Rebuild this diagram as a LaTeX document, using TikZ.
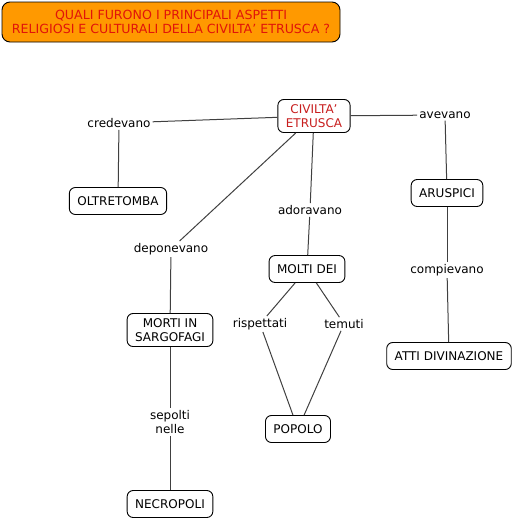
\documentclass[tikz,border=0pt]{standalone}
\usepackage{fontspec}
\setmainfont{DejaVu Sans}
\usepackage{tikz}
\usetikzlibrary{positioning}
\definecolor{titleorange}{RGB}{255,153,0}
\definecolor{titlered}{RGB}{225,20,10}
\definecolor{conceptred}{RGB}{200,30,30}
\newcommand{\apos}{\char"27\relax}
\tikzset{
  concept/.style={draw, rounded corners=6pt, line width=0.9pt, fill=white, align=center,
    inner xsep=8pt, inner ysep=5pt, minimum height=27pt},
  phrase/.style={fill=white, align=center, inner sep=2pt},
  link/.style={draw=black!75, line width=1pt}
}

\begin{document}
\begin{tikzpicture}[x=1pt, y=-1pt, font=\fontsize{12}{14}\selectfont]
			\useasboundingbox (0,0) rectangle (516,520);
			%% title
			\node[draw, rounded corners=8pt, line width=0.9pt, fill=titleorange, text=titlered, align=center,
			      minimum width=338pt, minimum height=40pt, inner sep=2pt,
			      font=\fontsize{12.6}{14}\selectfont] (question) at (171,22)
			      {QUALI FURONO I PRINCIPALI ASPETTI\\RELIGIOSI E CULTURALI DELLA CIVILTA\apos{} ETRUSCA ?};
			
			%% concepts
			\node[concept, text=conceptred] (civilta) at (314,116) {CIVILTA\apos\\ETRUSCA};
			\node[concept] (oltretomba) at (118,201) {OLTRETOMBA};
			\node[concept] (aruspici) at (447,193) {ARUSPICI};
			\node[concept] (moltidei) at (307,269) {MOLTI DEI};
			\node[concept] (morti) at (170,330) {MORTI IN\\SARGOFAGI};
			\node[concept] (atti) at (449,356) {ATTI DIVINAZIONE};
			\node[concept] (popolo) at (298,429) {POPOLO};
			\node[concept] (necropoli) at (170,504) {NECROPOLI};
			
			%% linking phrases
			\node[phrase] (credevano) at (119,123) {credevano};
			\node[phrase] (avevano) at (445,115) {avevano};
			\node[phrase] (adoravano) at (310,210) {adoravano};
			\node[phrase] (deponevano) at (171,249) {deponevano};
			\node[phrase] (compievano) at (447,270) {compievano};
			\node[phrase] (rispettati) at (260,324) {rispettati};
			\node[phrase] (temuti) at (344,324) {temuti};
			\node[phrase] (sepolti) at (170,422) {sepolti\\nelle};
			
			%% connectors
			\draw[link] (civilta) -- (credevano);
			\draw[link] (credevano) -- (oltretomba);
			\draw[link] (civilta) -- (avevano);
			\draw[link] (avevano) -- (aruspici);
			\draw[link] (aruspici) -- (compievano);
			\draw[link] (compievano) -- (atti);
			\draw[link] (civilta) -- (deponevano);
			\draw[link] (deponevano) -- (morti);
			\draw[link] (civilta) -- (adoravano);
			\draw[link] (adoravano) -- (moltidei);
			\draw[link] (moltidei) -- (rispettati);
			\draw[link] (moltidei) -- (temuti);
			\draw[link] (rispettati) -- (popolo);
			\draw[link] (temuti) -- (popolo);
			\draw[link] (morti) -- (sepolti);
			\draw[link] (sepolti) -- (necropoli);
\end{tikzpicture}
\end{document}
